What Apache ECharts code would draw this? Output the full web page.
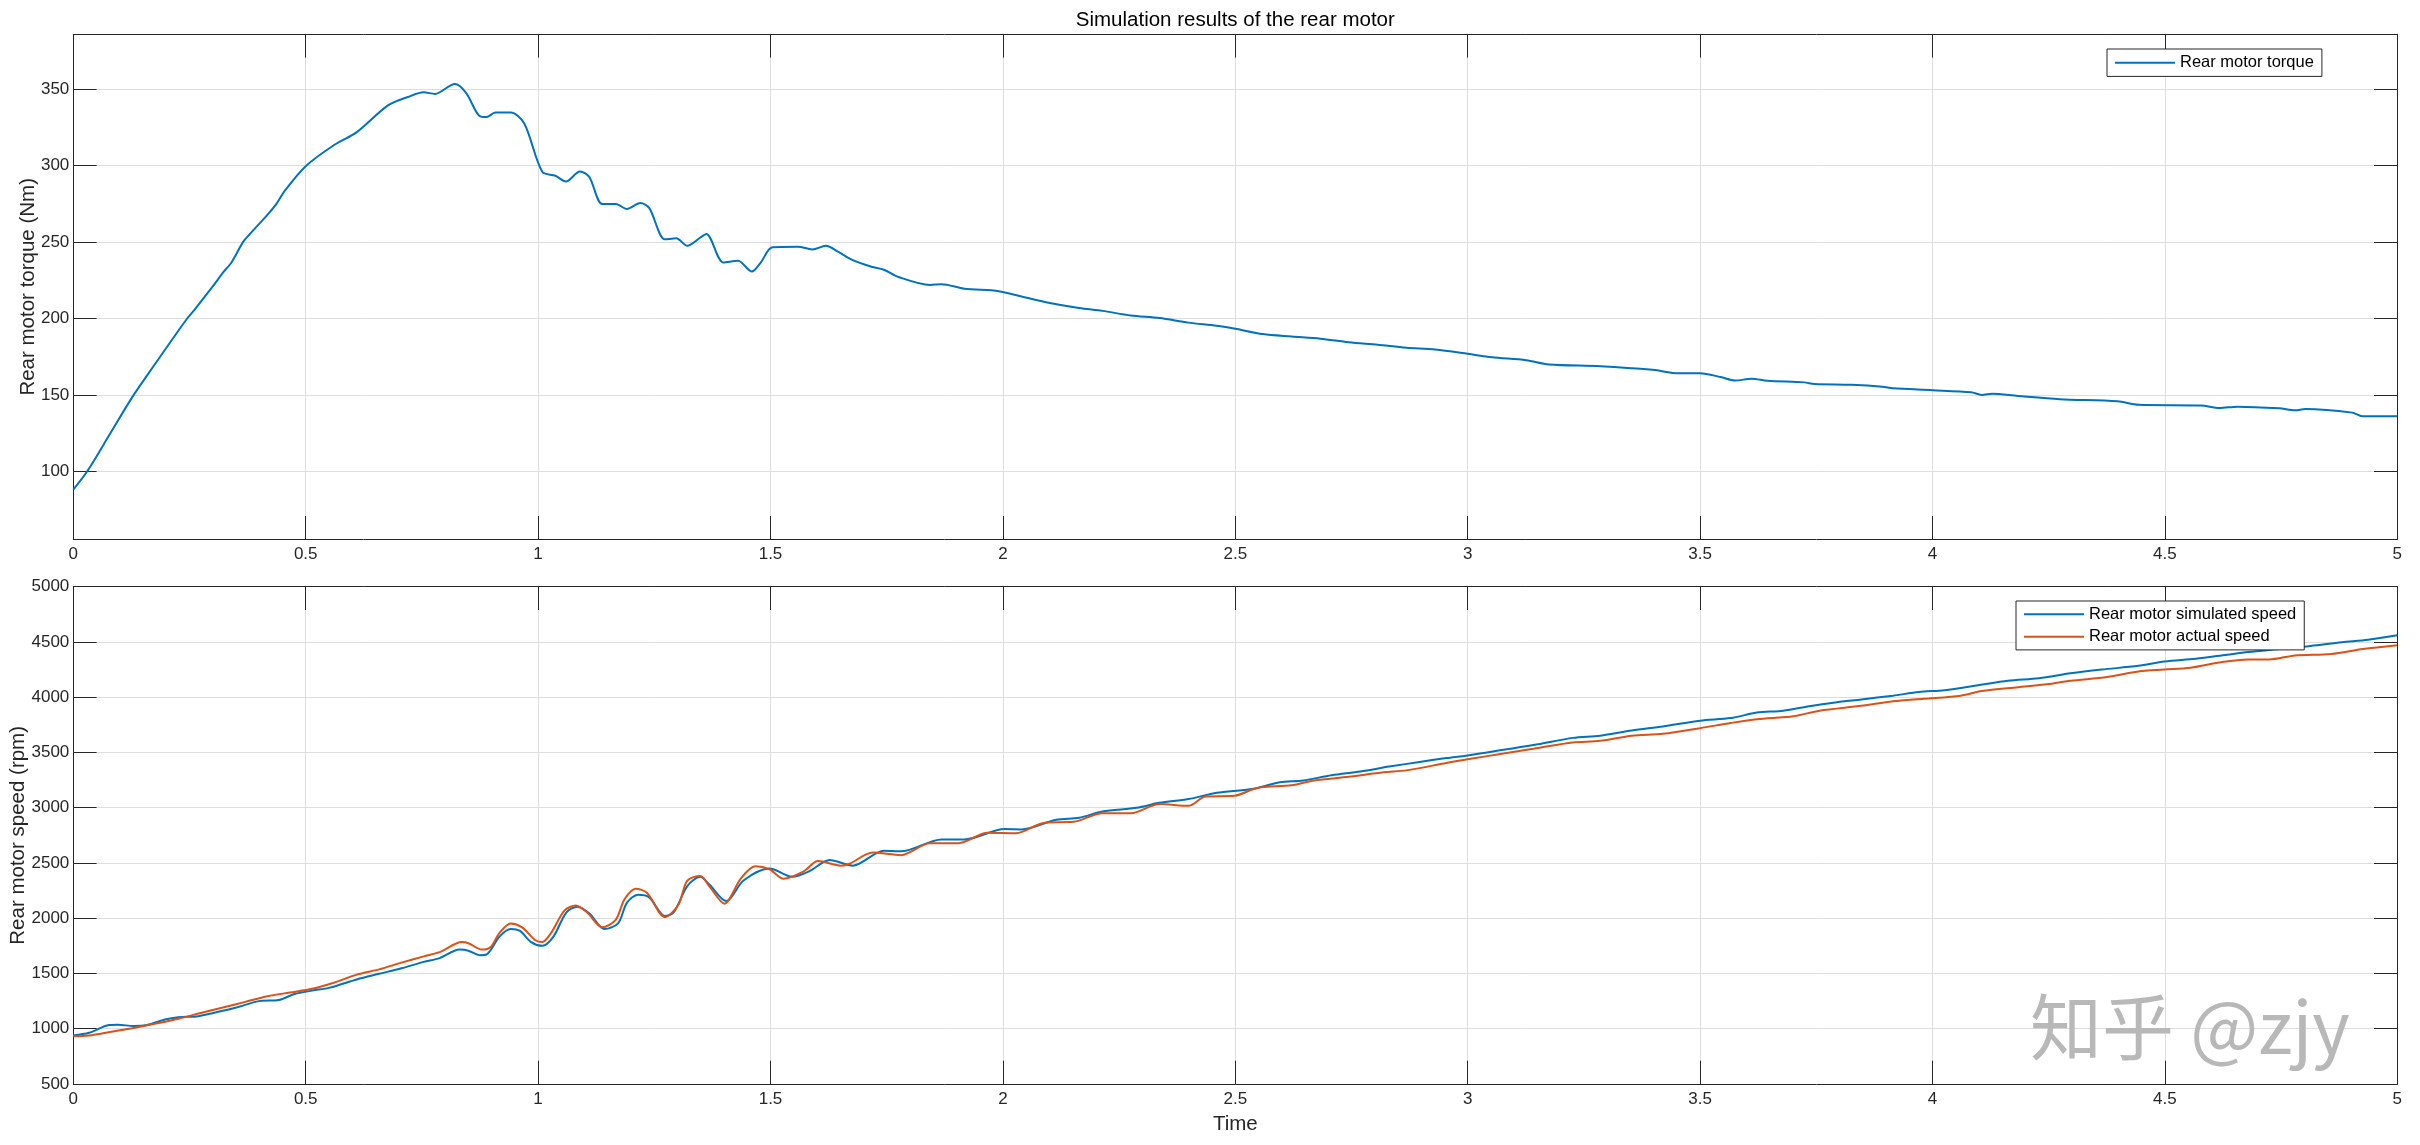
<!DOCTYPE html>
<html>
<head>
<meta charset="utf-8">
<script src="https://cdn.jsdelivr.net/npm/echarts@6/dist/echarts.min.js"></script>
<style>html,body{margin:0;padding:0;background:#fff;}#c{width:2420px;height:1145px;}</style>
</head>
<body>
<div id="c"></div>
<script>
// ---------- data ----------
const chartTitle = 'Simulation results of the rear motor';
const xTickValues = [0, 0.5, 1, 1.5, 2, 2.5, 3, 3.5, 4, 4.5, 5];
const torqueTicks = [100, 150, 200, 250, 300, 350];
const speedTicks = [500, 1000, 1500, 2000, 2500, 3000, 3500, 4000, 4500, 5000];

const torqueT = [0, 0.03, 0.08, 0.13, 0.18, 0.226, 0.245, 0.264, 0.3, 0.322, 0.341, 0.365, 0.379, 0.418, 0.437, 0.456, 0.5, 0.562, 0.61, 0.677, 0.72, 0.754, 0.778, 0.821, 0.845, 0.874, 0.889, 0.908, 0.941, 0.97, 1.009, 1.037, 1.06, 1.09, 1.11, 1.138, 1.167, 1.191, 1.22, 1.239, 1.273, 1.297, 1.321, 1.349, 1.362, 1.399, 1.43, 1.46, 1.479, 1.504, 1.559, 1.59, 1.619, 1.646, 1.677, 1.714, 1.744, 1.775, 1.843, 1.868, 1.917, 1.991, 2.04, 2.09, 2.164, 2.214, 2.275, 2.337, 2.399, 2.46, 2.5, 2.559, 2.621, 2.683, 2.744, 2.806, 2.868, 2.93, 3.0, 3.052, 3.126, 3.175, 3.285, 3.398, 3.454, 3.5, 3.544, 3.575, 3.611, 3.645, 3.724, 3.746, 3.825, 3.892, 3.915, 4.0, 4.083, 4.106, 4.128, 4.184, 4.274, 4.398, 4.443, 4.578, 4.617, 4.656, 4.746, 4.78, 4.802, 4.903, 4.925, 5.0];
const torqueV = [88, 100, 125, 150, 172, 192, 200, 207, 221, 230, 237, 250, 255, 268, 275, 284, 299.7, 313.7, 322, 339.5, 345, 348, 347, 353.5, 347.7, 332.5, 331.8, 334.8, 334.8, 327.8, 296, 293.4, 289.7, 296.2, 292.7, 275, 275, 271.7, 275.6, 272.4, 251.8, 252.5, 247.6, 253, 255.3, 236.6, 237.8, 230.7, 236.6, 246.6, 247, 245.2, 247.6, 243.6, 238.2, 234.2, 231.9, 227.2, 222, 222.5, 219.5, 217.9, 214.4, 210.8, 206.9, 205, 202, 200.3, 197.3, 195.2, 193.3, 189.8, 188.2, 186.8, 184.4, 182.8, 180.9, 179.7, 176.9, 174.6, 172.7, 169.9, 168.8, 166.4, 164.1, 164.1, 161.7, 159.4, 160.6, 159.2, 158.2, 157.1, 156.6, 155.4, 154.3, 153.1, 151.7, 150, 150.8, 149.3, 147.2, 145.8, 143.5, 143, 141.4, 142.3, 141.2, 140, 140.7, 138.4, 136, 136];

const simSpeedT = [0, 0.034, 0.077, 0.096, 0.13, 0.159, 0.197, 0.226, 0.264, 0.303, 0.351, 0.399, 0.442, 0.476, 0.514, 0.552, 0.61, 0.658, 0.706, 0.754, 0.788, 0.831, 0.85, 0.874, 0.889, 0.917, 0.941, 0.961, 0.985, 1.009, 1.033, 1.061, 1.085, 1.11, 1.143, 1.172, 1.191, 1.215, 1.239, 1.273, 1.292, 1.321, 1.349, 1.368, 1.405, 1.442, 1.498, 1.547, 1.584, 1.627, 1.677, 1.744, 1.781, 1.868, 1.917, 2.004, 2.04, 2.115, 2.164, 2.214, 2.288, 2.337, 2.399, 2.46, 2.535, 2.596, 2.646, 2.707, 2.769, 2.831, 2.893, 2.954, 3.0, 3.077, 3.151, 3.226, 3.285, 3.353, 3.42, 3.5, 3.566, 3.622, 3.679, 3.735, 3.791, 3.847, 3.915, 3.971, 4.026, 4.094, 4.162, 4.229, 4.297, 4.364, 4.443, 4.499, 4.566, 4.634, 4.679, 4.746, 4.813, 4.881, 4.937, 5.0];
const simSpeedV = [939, 963, 1034, 1037, 1024, 1034, 1084, 1105, 1111, 1145, 1192, 1250, 1260, 1314, 1345, 1372, 1446, 1497, 1547, 1605, 1639, 1716, 1706, 1666, 1672, 1834, 1902, 1885, 1784, 1750, 1834, 2054, 2105, 2044, 1902, 1953, 2139, 2213, 2189, 2020, 2054, 2291, 2375, 2307, 2155, 2341, 2449, 2375, 2426, 2527, 2476, 2611, 2605, 2713, 2713, 2807, 2804, 2892, 2909, 2966, 3000, 3044, 3078, 3135, 3169, 3230, 3247, 3294, 3328, 3372, 3412, 3449, 3473, 3524, 3574, 3632, 3652, 3699, 3736, 3787, 3811, 3861, 3878, 3919, 3953, 3980, 4014, 4047, 4064, 4105, 4149, 4172, 4216, 4250, 4284, 4324, 4348, 4385, 4409, 4436, 4463, 4497, 4520, 4561];

const actSpeedT = [0, 0.034, 0.082, 0.13, 0.178, 0.226, 0.274, 0.322, 0.37, 0.418, 0.466, 0.514, 0.562, 0.61, 0.658, 0.706, 0.754, 0.788, 0.836, 0.85, 0.879, 0.898, 0.917, 0.941, 0.965, 0.994, 1.009, 1.028, 1.057, 1.081, 1.105, 1.138, 1.167, 1.186, 1.21, 1.234, 1.273, 1.302, 1.321, 1.349, 1.368, 1.401, 1.436, 1.467, 1.498, 1.528, 1.572, 1.602, 1.652, 1.67, 1.72, 1.781, 1.843, 1.905, 1.967, 2.028, 2.09, 2.152, 2.214, 2.275, 2.337, 2.399, 2.436, 2.498, 2.547, 2.621, 2.67, 2.744, 2.819, 2.868, 2.954, 3.0, 3.077, 3.151, 3.226, 3.285, 3.353, 3.42, 3.5, 3.566, 3.622, 3.701, 3.757, 3.847, 3.915, 3.982, 4.061, 4.106, 4.184, 4.241, 4.297, 4.376, 4.443, 4.499, 4.555, 4.623, 4.679, 4.724, 4.78, 4.858, 4.926, 5.0];
const actSpeedV = [932, 939, 973, 1007, 1047, 1091, 1142, 1192, 1243, 1294, 1328, 1362, 1419, 1490, 1537, 1598, 1655, 1693, 1784, 1774, 1716, 1740, 1868, 1953, 1919, 1801, 1784, 1868, 2071, 2115, 2054, 1919, 1986, 2172, 2267, 2230, 2010, 2122, 2341, 2382, 2291, 2132, 2358, 2470, 2443, 2358, 2426, 2517, 2476, 2493, 2595, 2571, 2679, 2679, 2774, 2770, 2865, 2872, 2949, 2949, 3034, 3017, 3101, 3108, 3179, 3203, 3247, 3280, 3321, 3338, 3405, 3439, 3490, 3541, 3591, 3605, 3652, 3669, 3720, 3767, 3801, 3828, 3878, 3922, 3963, 3986, 4014, 4057, 4091, 4115, 4149, 4182, 4233, 4250, 4267, 4318, 4341, 4341, 4378, 4392, 4436, 4470];

// ---------- styling ----------
const FONT = "'Liberation Sans', Arial, Helvetica, sans-serif";
const AX = '#262626';
const GRIDC = '#dedede';
const BLUE = '#0072BD';
const ORANGE = '#D95319';
const TICKLEN = 23.3;

function pairs(t, v) { return t.map((x, i) => [x, v[i]]); }

function xAxes(grid, withName) {
  return [
    {
      gridIndex: grid, type: 'value', position: 'bottom', min: 0, max: 5, interval: 0.5,
      name: withName ? 'Time' : '', nameLocation: 'middle', nameGap: 30, nameMoveOverlap: false,
      nameTextStyle: { fontSize: 20.5, color: AX, fontFamily: FONT },
      axisLine: { show: true, onZero: false, lineStyle: { color: AX, width: 1 } },
      axisTick: { show: true, inside: true, length: TICKLEN, lineStyle: { color: AX, width: 1 } },
      axisLabel: { show: true, fontSize: 17, color: AX, fontFamily: FONT, margin: 7, formatter: v => String(v) },
      splitLine: { show: true, lineStyle: { color: GRIDC, width: 1 } }
    },
    {
      gridIndex: grid, type: 'value', position: 'top', min: 0, max: 5, interval: 0.5,
      axisLine: { show: true, onZero: false, lineStyle: { color: AX, width: 1 } },
      axisTick: { show: true, inside: true, length: TICKLEN, lineStyle: { color: AX, width: 1 } },
      axisLabel: { show: false },
      splitLine: { show: false }
    }
  ];
}

function yAxes(grid, name, min, max, ticks, gap) {
  return [
    {
      gridIndex: grid, type: 'value', position: 'left', min: min, max: max,
      name: name, nameLocation: 'middle', nameGap: gap, nameRotate: 90, nameMoveOverlap: false,
      nameTextStyle: { fontSize: 20.5, color: AX, fontFamily: FONT },
      axisLine: { show: true, onZero: false, lineStyle: { color: AX, width: 1 } },
      axisTick: { show: true, inside: true, length: TICKLEN, customValues: ticks, lineStyle: { color: AX, width: 1 } },
      axisLabel: { show: true, fontSize: 17, color: AX, fontFamily: FONT, margin: 4, customValues: ticks, formatter: v => String(v) },
      splitLine: { show: true, lineStyle: { color: GRIDC, width: 1 } }
    },
    {
      gridIndex: grid, type: 'value', position: 'right', min: min, max: max,
      axisLine: { show: true, onZero: false, lineStyle: { color: AX, width: 1 } },
      axisTick: { show: true, inside: true, length: TICKLEN, customValues: ticks, lineStyle: { color: AX, width: 1 } },
      axisLabel: { show: false },
      splitLine: { show: false }
    }
  ];
}

const chart = echarts.init(document.getElementById('c'), null, { renderer: 'canvas' });

const option = {
  backgroundColor: '#ffffff',
  animation: false,
  textStyle: { fontFamily: FONT },
  title: {
    text: chartTitle, left: 1235.3, top: 10, textAlign: 'center', padding: 0,
    textStyle: { fontSize: 20.5, fontWeight: 'normal', color: '#000', fontFamily: FONT }
  },
  grid: [
    { left: 73.3, right: 22.7, top: 34.3, height: 505, containLabel: false, outerBoundsMode: 'none' },
    { left: 73.3, right: 22.7, top: 586.7, height: 497.3, containLabel: false, outerBoundsMode: 'none' }
  ],
  xAxis: [].concat(xAxes(0, false), xAxes(1, true)),
  yAxis: [].concat(
    yAxes(0, 'Rear motor torque (Nm)', 55.5, 386, torqueTicks, 34),
    yAxes(1, 'Rear motor speed (rpm)', 500, 5000, speedTicks, 44.3)
  ),
  legend: [
    {
      data: ['Rear motor torque'], orient: 'vertical', left: 2107, top: 49,
      backgroundColor: '#fff', borderColor: AX, borderWidth: 1, borderRadius: 0,
      padding: [3.7, 8, 3.7, 8], itemWidth: 60, itemHeight: 2, itemGap: 2.5, icon: 'rect',
      textStyle: { fontSize: 16.5, color: '#000', fontFamily: FONT, lineHeight: 20 }
    },
    {
      data: ['Rear motor simulated speed', 'Rear motor actual speed'], orient: 'vertical', left: 2016, top: 601,
      backgroundColor: '#fff', borderColor: AX, borderWidth: 1, borderRadius: 0,
      padding: [3.2, 8, 3.2, 8], itemWidth: 60, itemHeight: 2, itemGap: 2.5, icon: 'rect',
      textStyle: { fontSize: 16.5, color: '#000', fontFamily: FONT, lineHeight: 20 }
    }
  ],
  graphic: [
    {
      type: 'text', left: 2030, top: 991, z: 50, silent: true,
      style: { text: '知乎 @zjy', fill: '#b8b8b8', font: "72px 'Noto Sans CJK SC', sans-serif" }
    }
  ],
  series: [
    {
      name: 'Rear motor torque', type: 'line', xAxisIndex: 0, yAxisIndex: 0,
      data: pairs(torqueT, torqueV), showSymbol: false, symbol: 'none', smooth: 0.3,
      lineStyle: { color: BLUE, width: 2 }, itemStyle: { color: BLUE }
    },
    {
      name: 'Rear motor simulated speed', type: 'line', xAxisIndex: 2, yAxisIndex: 2,
      data: pairs(simSpeedT, simSpeedV), showSymbol: false, symbol: 'none', smooth: 0.3,
      lineStyle: { color: BLUE, width: 2 }, itemStyle: { color: BLUE }
    },
    {
      name: 'Rear motor actual speed', type: 'line', xAxisIndex: 2, yAxisIndex: 2,
      data: pairs(actSpeedT, actSpeedV), showSymbol: false, symbol: 'none', smooth: 0.3,
      lineStyle: { color: ORANGE, width: 2 }, itemStyle: { color: ORANGE }
    }
  ]
};
chart.setOption(option);
</script>
</body>
</html>
